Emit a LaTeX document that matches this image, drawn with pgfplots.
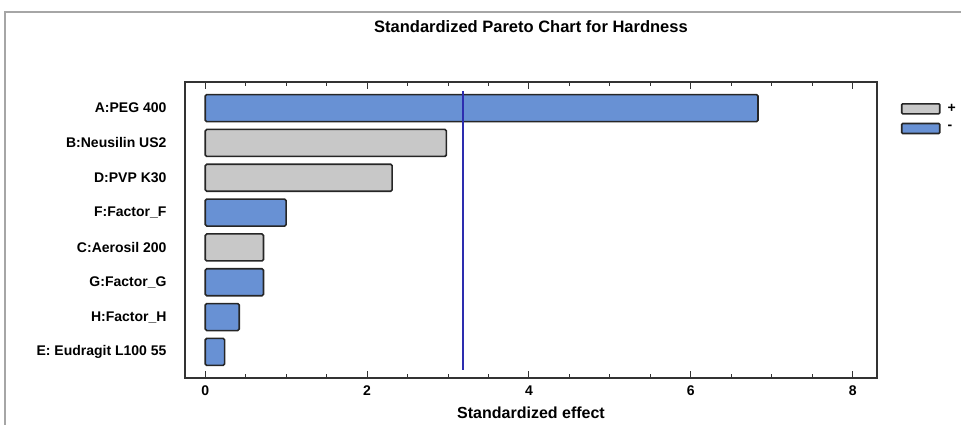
\documentclass[border=0pt]{standalone}
\usepackage{fontspec}
\setmainfont{Liberation Sans}
\usepackage{pgfplots}
\pgfplotsset{compat=1.18}
\definecolor{barblue}{RGB}{104,145,212}
\definecolor{bargray}{RGB}{200,200,200}
\definecolor{refline}{RGB}{45,45,175}
\begin{document}
\begin{tikzpicture}[x=1pt,y=1pt]
\path[use as bounding box] (0,0) rectangle (961,425);
\draw[gray!70, line width=1.5pt] (5,0) -- (5,413) -- (961,413);
\begin{axis}[
  at={(185pt,47pt)}, anchor=south west,
  scale only axis, width=692pt, height=296pt,
  xmin=-0.25, xmax=8.3, ymin=0.25, ymax=8.75, y dir=reverse,
  xtick={0,2,4,6,8}, minor x tick num=3,
  ytick={1,2,3,4,5,6,7,8},
  yticklabels={A:PEG 400, B:Neusilin US2, D:PVP K30, F:Factor\_F, C:Aerosil 200, G:Factor\_G, H:Factor\_H, E: Eudragit L100 55},
  y tick style={draw=none},
  tick align=inside,
  major tick length=7pt, minor tick length=4pt,
  x tick style={black!80, line width=1pt},
  axis line style={black!80, line width=1.3pt},
  /pgf/number format/assume math mode=true,
  tick label style={font=\bfseries\fontsize{14}{16}\selectfont},
  yticklabel style={xshift=-15pt},
  xticklabel style={yshift=-4pt},
  label style={font=\bfseries\fontsize{16}{18}\selectfont},
  xlabel={Standardized effect},
  xlabel style={yshift=-5pt},
  title={Standardized Pareto Chart for Hardness},
  title style={font=\bfseries\fontsize{16.5}{18}\selectfont, at={(0.5,1)}, anchor=south, yshift=40pt},
  legend style={at={(1.03,0.94)}, anchor=north west, draw=none, fill=none, font=\bfseries\fontsize{14}{16}\selectfont, row sep=7pt},
  legend image code/.code={\draw[#1, rounded corners=1pt] (0pt,-5pt) rectangle (38pt,5pt);},
  legend cell align=left,
]
\addplot[xbar, bar width=27pt, bar shift=0pt, fill=bargray, draw=black!85, line width=1.6pt, rounded corners=1.5pt] coordinates {(2.98,2) (2.31,3) (0.72,5)};
\addlegendentry{\hspace{5pt}+}
\addplot[xbar, bar width=27pt, bar shift=0pt, fill=barblue, draw=black!85, line width=1.6pt, rounded corners=1.5pt] coordinates {(6.83,1) (1.0,4) (0.72,6) (0.42,7) (0.24,8)};
\addlegendentry{\hspace{5pt}-}
\addplot[color=refline, solid, line width=2pt, mark=none, forget plot] table[x=x, y=y] {
x y
3.19 0.51
3.19 8.52
};
\end{axis}
\end{tikzpicture}
\end{document}
